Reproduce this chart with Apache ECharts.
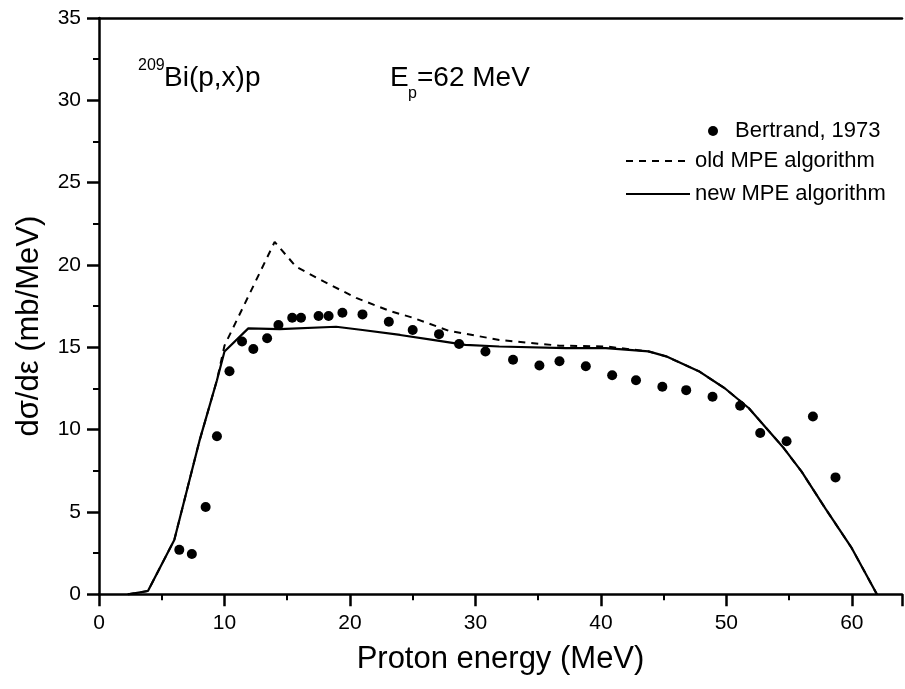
<!DOCTYPE html>
<html>
<head>
<meta charset="utf-8">
<script src="https://cdn.jsdelivr.net/npm/echarts@6/dist/echarts.min.js"></script>
<style>
html,body{margin:0;padding:0;background:#fff;}
#chart{width:905px;height:689px;}
</style>
</head>
<body>
<div id="chart"></div>
<script>
// Bertrand, 1973 experimental points
const bertrandE = [6.4, 7.4, 8.5, 9.4, 10.4, 11.4, 12.3, 13.4, 14.3, 15.4, 16.1, 17.5, 18.3, 19.4, 21.0, 23.1, 25.0, 27.1, 28.7, 30.8, 33.0, 35.1, 36.7, 38.8, 40.9, 42.8, 44.9, 46.8, 48.9, 51.1, 52.7, 54.8, 56.9, 58.7];
const bertrandY = [2.7, 2.45, 5.3, 9.6, 13.55, 15.35, 14.9, 15.55, 16.35, 16.8, 16.8, 16.9, 16.9, 17.1, 17.0, 16.55, 16.05, 15.8, 15.2, 14.75, 14.25, 13.9, 14.15, 13.85, 13.3, 13.0, 12.6, 12.4, 12.0, 11.45, 9.8, 9.3, 10.8, 7.1];

// old MPE algorithm (dashed)
const oldE = [2.3, 3.9, 6.0, 7.2, 8.0, 9.4, 10.0, 14.0, 15.7, 17.9, 20.5, 23.2, 25.0, 27.9, 31.9, 36.7, 40.4, 43.8, 45.2, 47.8, 49.9, 51.8, 54.5, 56.0, 57.9, 60.0, 62.0];
const oldY = [0.0, 0.2, 3.3, 6.9, 9.3, 13.0, 15.1, 21.4, 19.9, 19.0, 18.0, 17.2, 16.8, 16.0, 15.45, 15.1, 15.05, 14.75, 14.45, 13.55, 12.5, 11.3, 8.95, 7.45, 5.2, 2.8, 0.0];

// new MPE algorithm (solid)
const newE = [2.3, 3.9, 6.0, 7.2, 8.0, 9.4, 10.0, 11.9, 14.4, 18.9, 21.0, 24.0, 26.6, 29.2, 31.9, 37.2, 40.4, 43.8, 45.2, 47.8, 49.9, 51.8, 54.5, 56.0, 57.9, 60.0, 62.0];
const newY = [0.0, 0.2, 3.3, 6.9, 9.3, 13.0, 14.75, 16.15, 16.1, 16.25, 16.05, 15.75, 15.45, 15.15, 15.05, 14.95, 14.95, 14.75, 14.45, 13.55, 12.5, 11.3, 8.95, 7.45, 5.2, 2.8, 0.0];

const xTicks = [0, 10, 20, 30, 40, 50, 60];
const yTicks = [0, 5, 10, 15, 20, 25, 30, 35];

const FONT = 'Liberation Sans';
const pair = (xs, ys) => xs.map((x, i) => [x, ys[i]]);

const chart = echarts.init(document.getElementById('chart'), null, {renderer: 'canvas'});
chart.setOption({
  animation: false,
  backgroundColor: '#fff',
  textStyle: {fontFamily: FONT, color: '#000'},
  grid: {left: 99, top: 18, right: 1.5, bottom: 94.7, containLabel: false},
  xAxis: [{
    type: 'value', min: 0, max: 64, interval: 10,
    name: 'Proton energy (MeV)', nameLocation: 'middle', nameGap: 50,
    nameTextStyle: {fontSize: 31, color: '#000', fontFamily: FONT},
    axisLine: {onZero: false, lineStyle: {color: '#000', width: 2.5}},
    axisTick: {show: true, length: 12, inside: false, lineStyle: {color: '#000', width: 2.5}},
    minorTick: {show: true, splitNumber: 2, length: 6, lineStyle: {color: '#000', width: 2}},
    axisLabel: {fontSize: 21, color: '#000', margin: 18, fontFamily: FONT,
      formatter: v => xTicks.includes(v) ? String(v) : ''},
    splitLine: {show: false}
  }, {
    type: 'value', min: 0, max: 64, position: 'top',
    axisLine: {show: true, onZero: false, lineStyle: {color: '#000', width: 2.5}},
    axisTick: {show: false}, axisLabel: {show: false}, splitLine: {show: false}
  }],
  yAxis: {
    type: 'value', min: 0, max: 35, interval: 5,
    name: 'd\u03c3/d\u03b5 (mb/MeV)', nameLocation: 'middle', nameGap: 54,
    nameTextStyle: {fontSize: 31, color: '#000', fontFamily: FONT, padding: [0, 40, 0, 0]},
    axisLine: {onZero: false, lineStyle: {color: '#000', width: 2.5}},
    axisTick: {show: true, length: 12, lineStyle: {color: '#000', width: 2.5}},
    minorTick: {show: true, splitNumber: 2, length: 6, lineStyle: {color: '#000', width: 2}},
    axisLabel: {fontSize: 21, color: '#000', margin: 18, fontFamily: FONT,
      formatter: v => yTicks.includes(v) ? String(v) : ''},
    splitLine: {show: false}
  },
  legend: [{
    orient: 'vertical', left: 703, top: 115, itemWidth: 14, itemHeight: 10, itemGap: 12,
    data: [{name: 'Bertrand, 1973', icon: 'circle'}],
    itemStyle: {opacity: 1},
    textStyle: {fontSize: 22, color: '#000', fontFamily: FONT, padding: [0, 0, 0, 10]}
  }, {
    orient: 'vertical', left: 620, top: 145, itemWidth: 64, itemHeight: 10, itemGap: 11,
    data: ['old MPE algorithm', 'new MPE algorithm'],
    itemStyle: {opacity: 0},
    textStyle: {fontSize: 22, color: '#000', fontFamily: FONT}
  }],
  graphic: [
    {type: 'text', left: 138, top: 58, style: {text: '209', font: '16px "Liberation Sans"', fill: '#000'}},
    {type: 'text', left: 164, top: 64, style: {text: 'Bi(p,x)p', font: '28px "Liberation Sans"', fill: '#000'}},
    {type: 'text', left: 390, top: 64, style: {text: 'E', font: '28px "Liberation Sans"', fill: '#000'}},
    {type: 'text', left: 408, top: 86, style: {text: 'p', font: '16px "Liberation Sans"', fill: '#000'}},
    {type: 'text', left: 417, top: 64, style: {text: '=62 MeV', font: '28px "Liberation Sans"', fill: '#000'}}
  ],
  series: [{
    name: 'Bertrand, 1973', type: 'scatter', data: pair(bertrandE, bertrandY),
    symbol: 'circle', symbolSize: 10, itemStyle: {color: '#000', opacity: 1}, z: 5
  }, {
    name: 'old MPE algorithm', type: 'line', data: pair(oldE, oldY),
    showSymbol: false, symbol: 'none', smooth: false,
    lineStyle: {color: '#000', width: 2, type: [7, 6]}, itemStyle: {color: '#000'}
  }, {
    name: 'new MPE algorithm', type: 'line', data: pair(newE, newY),
    showSymbol: false, symbol: 'none', smooth: false,
    lineStyle: {color: '#000', width: 2.2, type: 'solid'}, itemStyle: {color: '#000'}
  }]
});
</script>
</body>
</html>
